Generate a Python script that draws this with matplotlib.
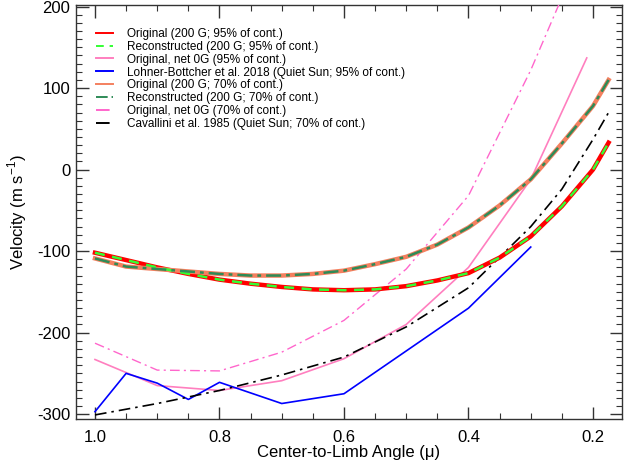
import numpy as np
import matplotlib
matplotlib.use('Agg')
import matplotlib.pyplot as plt
from matplotlib.ticker import MultipleLocator

plt.rcParams['font.family'] = ['Liberation Sans', 'DejaVu Sans']
plt.rcParams['axes.unicode_minus'] = False
plt.rcParams['mathtext.fontset'] = 'custom'
plt.rcParams['mathtext.rm'] = 'Liberation Sans'

# mu samples for the smooth model curves
mu_model = [1.0, 0.95, 0.9, 0.85, 0.8, 0.75, 0.7, 0.65, 0.6, 0.55, 0.5,
            0.45, 0.4, 0.35, 0.3, 0.25, 0.2, 0.175]
orig_95 = [-102, -111, -120, -128, -135, -140, -144, -147, -148, -147, -143,
           -136, -127, -108, -82, -45, 0, 33]
recon_95 = orig_95
orig_70 = [-109, -119, -122, -125, -128, -130, -130, -128, -124, -116, -107,
           -92, -71, -44, -12, 32, 78, 110]
recon_70 = orig_70

mu_net = [1.0, 0.9, 0.8, 0.7, 0.6, 0.5, 0.4, 0.3, 0.21]
net0_95 = [-233, -265, -271, -259, -232, -190, -120, -12, 137]

mu_net70 = [1.0, 0.9, 0.8, 0.7, 0.6, 0.5, 0.4, 0.3, 0.2]
net0_70 = [-213, -246, -247, -224, -185, -122, -32, 122, 300]

mu_lb = [1.0, 0.95, 0.9, 0.85, 0.8, 0.7, 0.6, 0.4, 0.3]
lohner = [-297, -250, -262, -282, -261, -287, -275, -170, -95]

mu_cav = [1.0, 0.9, 0.8, 0.7, 0.6, 0.5, 0.4, 0.3, 0.25, 0.2, 0.175]
cavallini = [-301, -287, -271, -252, -230, -193, -145, -70, -24, 37, 70]

fig = plt.figure(figsize=(6.24, 4.70), dpi=100)
ax = fig.add_axes([0.1218, 0.1085, 0.875, 0.881])

ax.plot(mu_model, orig_95, color='#ff0000', lw=3.2, label='Original (200 G; 95% of cont.)', zorder=5)
ax.plot(mu_model, recon_95, color='#33ff33', lw=1.8, ls=(0, (4, 3)), label='Reconstructed (200 G; 95% of cont.)', zorder=6)
ax.plot(mu_net, net0_95, color='#ff7fbf', lw=1.2, label='Original, net 0G (95% of cont.)', zorder=3)
ax.plot(mu_lb, lohner, color='#0000ff', lw=1.2, label='Lohner-Bottcher et al. 2018 (Quiet Sun; 95% of cont.)', zorder=3)
ax.plot(mu_model, orig_70, color='#f4805f', lw=3.2, label='Original (200 G; 70% of cont.)', zorder=5)
ax.plot(mu_model, recon_70, color='#2e8b57', lw=1.8, ls=(0, (6, 2, 1.5, 2)), label='Reconstructed (200 G; 70% of cont.)', zorder=6)
ax.plot(mu_net70, net0_70, color='#ff66cc', lw=1.0, ls=(0, (7, 3, 1.5, 3)), label='Original, net 0G (70% of cont.)', zorder=3)
ax.plot(mu_cav, cavallini, color='black', lw=1.2, ls=(0, (7, 3, 1.5, 3)), label='Cavallini et al. 1985 (Quiet Sun; 70% of cont.)', zorder=4)

ax.set_xlim(1.0305, 0.1534)
ax.set_ylim(-306, 202)
ax.xaxis.set_minor_locator(MultipleLocator(0.05))
ax.yaxis.set_major_locator(MultipleLocator(100))
ax.yaxis.set_minor_locator(MultipleLocator(10))
ax.set_xticks([1.0, 0.8, 0.6, 0.4, 0.2])
ax.set_xticklabels(['1.0', '0.8', '0.6', '0.4', '0.2'])
ax.tick_params(which='both', direction='in', top=True, right=True, labelsize=12, color='#333333')
ax.tick_params(which='major', length=9, width=1.0)
ax.tick_params(which='minor', length=4.5, width=0.8)
ax.tick_params(axis='x', which='major', pad=8)
ax.tick_params(axis='y', which='major', pad=4)
for s in ax.spines.values():
    s.set_color('#333333')
    s.set_linewidth(1.0)

ax.set_xlabel('Center-to-Limb Angle (\u03bc)', fontsize=12, labelpad=0)
ax.set_ylabel('Velocity (m s$^{\\mathregular{-1}}$)', fontsize=12, labelpad=6)

leg = ax.legend(loc='upper left', bbox_to_anchor=(0.0366, 0.945), frameon=False,
                fontsize=8.5, handlelength=1.44, handletextpad=1.2,
                labelspacing=0.08, borderaxespad=0.0, borderpad=0.0)
for ln in leg.get_lines():
    ln.set_linewidth(1.4)

fig.savefig('out.png', dpi=100)
